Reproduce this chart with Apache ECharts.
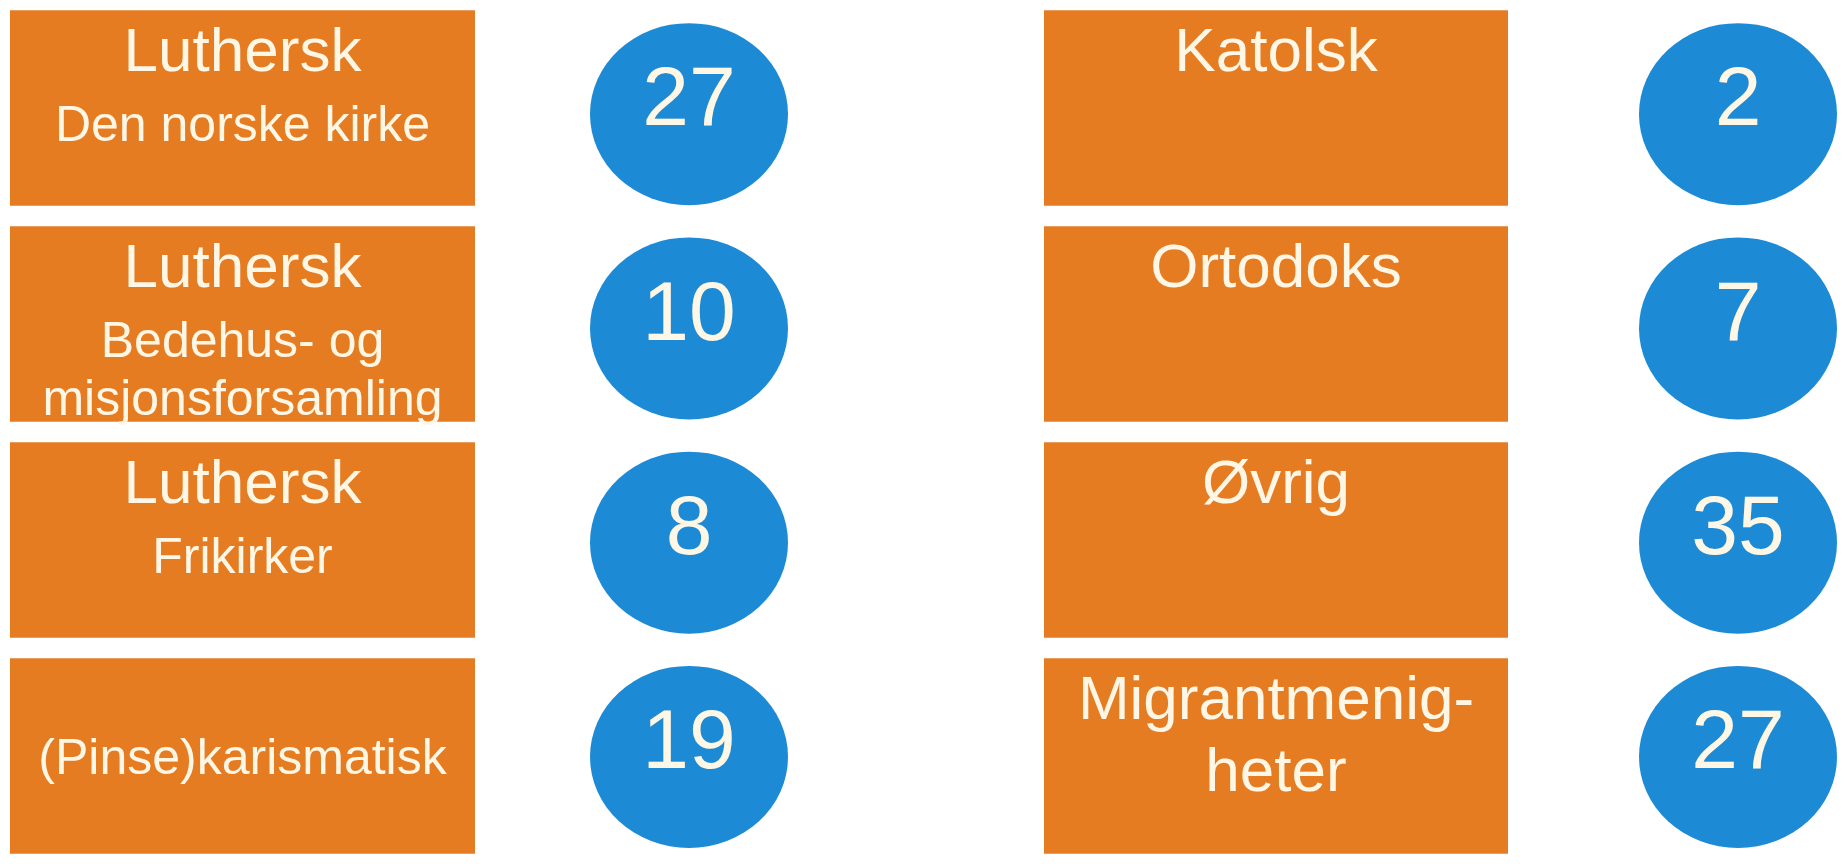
<!DOCTYPE html>
<html>
<head>
<meta charset="utf-8">
<title>Trossamfunn</title>
<script src="https://cdn.jsdelivr.net/npm/echarts@6/dist/echarts.min.js"></script>
<style type="text/css">
    html, body { margin: 0; padding: 0; background: #ffffff; }
    #main { width: 1841px; height: 864px; }
</style>
</head>
<body>
<div id="main"></div>
<script type="text/javascript">
// rader i venstre kolonne
var leftCategories = ['Den norske kirke', 'Bedehus- og misjonsforsamling', 'Frikirker', '(Pinse)karismatisk'];
var leftTitles = ['Luthersk', 'Luthersk', 'Luthersk', ''];
var leftSubtitles = ['Den norske kirke', 'Bedehus- og\nmisjonsforsamling', 'Frikirker', '(Pinse)karismatisk'];
var leftCounts = [27, 10, 8, 19];

// rader i høyre kolonne
var rightCategories = ['Katolsk', 'Ortodoks', 'Øvrig', 'Migrantmenigheter'];
var rightTitles = ['Katolsk', 'Ortodoks', 'Øvrig', 'Migrantmenig-\nheter'];
var rightSubtitles = ['', '', '', ''];
var rightCounts = [2, 7, 35, 27];

var ORANGE = '#E67C22';
var BLUE = '#1D8AD5';
var TEXT = '#FFF7E6';
var FONT = '"Liberation Sans", Arial, sans-serif';

function rich(text, style) {
    return text.split('\n').map(function (line) { return '{' + style + '|' + line + '}'; }).join('\n');
}

function boxData(titles, subtitles) {
    return titles.map(function (t, i) {
        var item = { value: 1, title: t, sub: subtitles[i] };
        // kun undertittel -> midtstilt i boksen
        if (!t) {
            item.label = { position: 'inside', distance: 0, offset: [0, 4] };
        }
        return item;
    });
}

function circleData(counts) {
    return counts.map(function (v, i) { return [0, i, v]; });
}

var boxLabel = {
    show: true,
    position: 'insideTop',
    distance: 8,
    color: TEXT,
    fontFamily: FONT,
    formatter: function (p) {
        var parts = [];
        if (p.data.title) parts.push(rich(p.data.title, 't'));
        if (p.data.title && p.data.sub) parts.push('{gap| }');
        if (p.data.sub) parts.push(rich(p.data.sub, 's'));
        return parts.join('\n');
    },
    rich: {
        t: { fontSize: 62, lineHeight: 72, color: TEXT, fontFamily: FONT },
        gap: { fontSize: 4, lineHeight: 8 },
        s: { fontSize: 50, lineHeight: 58, color: TEXT, fontFamily: FONT }
    }
};

var circleLabel = {
    show: true,
    position: 'inside',
    offset: [0, -12],
    color: TEXT,
    fontFamily: FONT,
    fontSize: 84,
    formatter: function (p) { return p.value[2]; }
};

function hiddenValueAxis(gridIndex) {
    return { type: 'value', gridIndex: gridIndex, min: 0, max: 1, show: false };
}
function hiddenCatAxis(gridIndex, data) {
    return { type: 'category', gridIndex: gridIndex, data: data, inverse: true, show: false };
}

var chart = echarts.init(document.getElementById('main'));
chart.setOption({
    backgroundColor: '#ffffff',
    animation: false,
    grid: [
        { left: 10, top: 0, width: 465, height: 872 },
        { left: 590, top: 7, width: 198, height: 858 },
        { left: 1044, top: 0, width: 464, height: 872 },
        { left: 1639, top: 7, width: 198, height: 858 }
    ],
    xAxis: [
        hiddenValueAxis(0),
        { type: 'category', gridIndex: 1, data: ['Antall'], show: false },
        hiddenValueAxis(2),
        { type: 'category', gridIndex: 3, data: ['Antall'], show: false }
    ],
    yAxis: [
        hiddenCatAxis(0, leftCategories),
        hiddenCatAxis(1, leftCategories),
        hiddenCatAxis(2, rightCategories),
        hiddenCatAxis(3, rightCategories)
    ],
    series: [
        {
            type: 'bar', xAxisIndex: 0, yAxisIndex: 0,
            data: boxData(leftTitles, leftSubtitles),
            barCategoryGap: '9.6%',
            itemStyle: { color: ORANGE },
            label: boxLabel
        },
        {
            type: 'scatter', xAxisIndex: 1, yAxisIndex: 1,
            data: circleData(leftCounts),
            symbol: 'circle',
            symbolSize: [198, 182],
            itemStyle: { color: BLUE, opacity: 1 },
            label: circleLabel
        },
        {
            type: 'bar', xAxisIndex: 2, yAxisIndex: 2,
            data: boxData(rightTitles, rightSubtitles),
            barCategoryGap: '9.6%',
            itemStyle: { color: ORANGE },
            label: boxLabel
        },
        {
            type: 'scatter', xAxisIndex: 3, yAxisIndex: 3,
            data: circleData(rightCounts),
            symbol: 'circle',
            symbolSize: [198, 182],
            itemStyle: { color: BLUE, opacity: 1 },
            label: circleLabel
        }
    ]
});
</script>
</body>
</html>
